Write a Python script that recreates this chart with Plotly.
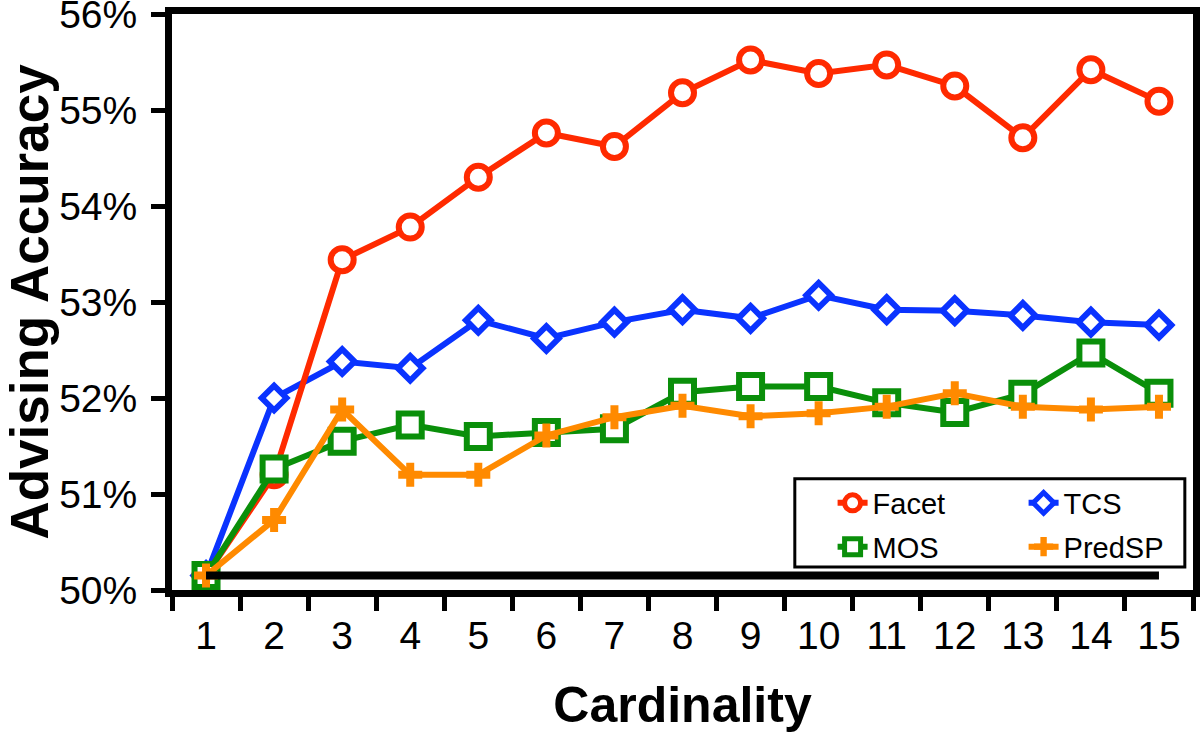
import plotly.graph_objects as go

categories = [str(i) for i in range(1, 16)]
facet = [50.15, 51.20, 53.44, 53.78, 54.30, 54.76, 54.62, 55.18, 55.52, 55.38, 55.47, 55.25, 54.71, 55.42, 55.09]
tcs = [50.15, 52.00, 52.38, 52.31, 52.81, 52.62, 52.79, 52.92, 52.83, 53.07, 52.92, 52.91, 52.86, 52.79, 52.76]
mos = [50.15, 51.26, 51.55, 51.72, 51.60, 51.64, 51.68, 52.06, 52.12, 52.12, 51.95, 51.85, 52.04, 52.47, 52.05]
predsp = [50.15, 50.73, 51.88, 51.20, 51.20, 51.61, 51.80, 51.92, 51.81, 51.84, 51.91, 52.05, 51.91, 51.88, 51.91]
baseline_value = 50.15
y_ticks = [50, 51, 52, 53, 54, 55, 56]

RED = "#FF2A00"
BLUE = "#0A33FF"
GREEN = "#0A8F0A"
ORANGE = "#FF8A00"

fig = go.Figure()

fig.add_trace(go.Scatter(
    x=categories, y=tcs, name="TCS", mode="lines+markers", legend="legend", legendrank=2,
    line=dict(color=BLUE, width=6),
    marker=dict(symbol="diamond", size=19, color="white", line=dict(color=BLUE, width=6)),
))
fig.add_trace(go.Scatter(
    x=categories, y=facet, name="Facet", mode="lines+markers", legend="legend", legendrank=1,
    line=dict(color=RED, width=6),
    marker=dict(symbol="circle", size=23, color="white", line=dict(color=RED, width=6)),
))
fig.add_trace(go.Scatter(
    x=categories, y=mos, name="MOS", mode="lines+markers", legend="legend2", legendrank=3,
    line=dict(color=GREEN, width=6),
    marker=dict(symbol="square", size=23, color="white", line=dict(color=GREEN, width=6)),
))
fig.add_trace(go.Scatter(
    x=categories, y=predsp, name="PredSP", mode="lines+markers", legend="legend2", legendrank=4,
    line=dict(color=ORANGE, width=6),
    marker=dict(symbol="cross", size=20, color=ORANGE, line=dict(width=0)),
))
fig.add_trace(go.Scatter(
    x=[categories[0], categories[-1]], y=[baseline_value, baseline_value],
    mode="lines", showlegend=False, hoverinfo="skip",
    line=dict(color="black", width=8),
))

legend_common = dict(
    orientation="h", xanchor="left", yanchor="middle",
    bgcolor="rgba(0,0,0,0)", borderwidth=0,
    font=dict(family="Arial", size=29, color="black"),
    entrywidth=146, entrywidthmode="pixels",
)

fig.update_layout(
    width=1200, height=733,
    margin=dict(l=172, r=7, t=14, b=143, autoexpand=False),
    paper_bgcolor="white", plot_bgcolor="white",
    showlegend=True,
    legend=dict(x=0.647, y=0.151, **legend_common),
    legend2=dict(x=0.647, y=0.075, **legend_common),
    shapes=[dict(type="rect", xref="paper", yref="paper",
                 x0=0.610, x1=0.992, y0=0.040, y1=0.193,
                 line=dict(color="black", width=3), fillcolor="rgba(0,0,0,0)", layer="above")],
    xaxis=dict(
        type="category", tickson="boundaries", range=[-0.5, 14.5], automargin=False,
        showline=True, linecolor="black", linewidth=7, mirror=True,
        ticks="outside", ticklen=14, tickwidth=5, tickcolor="black",
        showgrid=False, zeroline=False,
        tickfont=dict(family="Arial", size=39, color="black"),
        ticklabelstandoff=5, ticklabeloverflow="allow",
        title=dict(text="Cardinality", font=dict(family="Arial", size=50, color="black", weight="bold"), standoff=34),
    ),
    yaxis=dict(
        range=[50, 56], tickvals=y_ticks, ticktext=[f"{v}%" for v in y_ticks], automargin=False,
        showline=True, linecolor="black", linewidth=7, mirror=True,
        ticks="outside", ticklen=14, tickwidth=5, tickcolor="black",
        showgrid=False, zeroline=False,
        tickfont=dict(family="Arial", size=39, color="black"),
        ticklabelstandoff=6, ticklabeloverflow="allow",
        title=dict(text="Advising Accuracy", font=dict(family="Arial", size=53, color="black", weight="bold"), standoff=49),
    ),
)

# remove the default 8px page margin so the figure fills the window exactly
fig.write_html("out.html", config={"displayModeBar": False},
               post_script="document.body.style.margin='0';")
